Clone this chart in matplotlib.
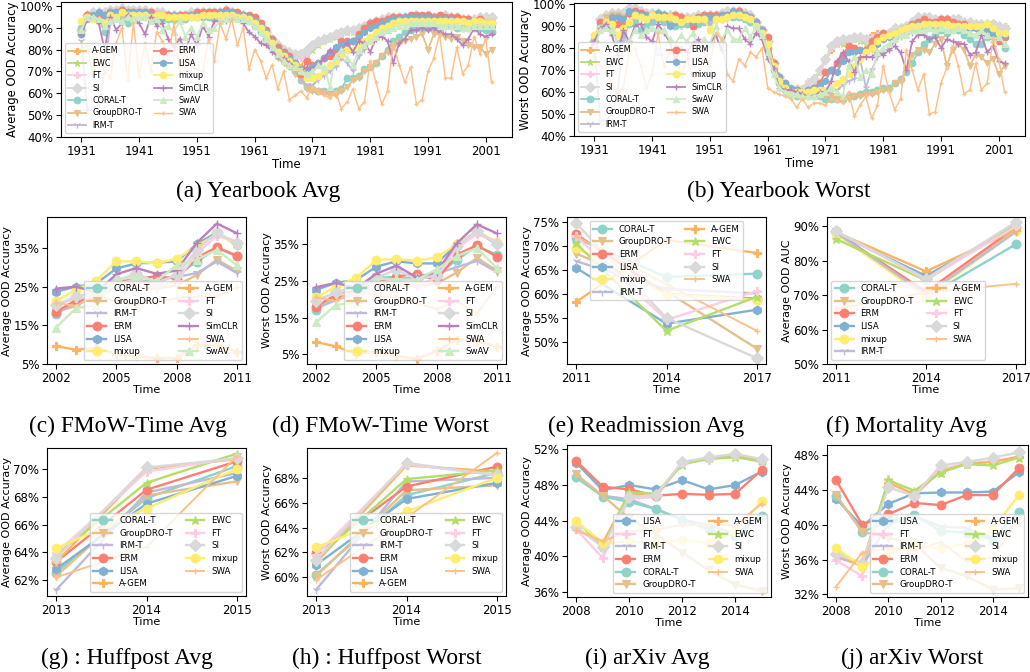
import matplotlib
matplotlib.use("Agg")
import matplotlib.pyplot as plt
from matplotlib.ticker import FuncFormatter

W, H = 1030, 672

# colours and markers per method
colors = {
    'CORAL-T': '#8dd3c7', 'GroupDRO-T': '#e5c08a', 'IRM-T': '#bebada',
    'ERM': '#fb8072', 'LISA': '#80b1d3', 'mixup': '#ffed6f',
    'A-GEM': '#fdb462', 'EWC': '#b3de69', 'FT': '#fccde5', 'SI': '#d9d9d9',
    'SimCLR': '#bc80bd', 'SwAV': '#ccebc5', 'SWA': '#fdc086',
}
markers = {
    'CORAL-T': 'o', 'GroupDRO-T': 'v', 'IRM-T': '1', 'ERM': 'o', 'LISA': 'h',
    'mixup': 'o', 'A-GEM': 'P', 'EWC': '*', 'FT': 'P', 'SI': 'D',
    'SimCLR': '+', 'SwAV': '^', 'SWA': '+',
}

yb_years = list(range(1931, 2003))
fmow_years = list(range(2002, 2012))
mimic_years = [2011, 2014, 2017]
huff_years = [2013, 2014, 2015]
arxiv_years = list(range(2008, 2016))

# ---------------- Yearbook Avg ----------------
yb_avg = {
    'A-GEM': [88, 95, 95, 94, 95, 96, 97, 98, 97, 96,
              97, 96, 97, 96, 96, 96, 96, 96, 95, 96,
              96, 96, 96, 97, 97, 97, 96, 96, 95, 95,
              94, 91, 88, 84, 81, 80, 78, 76, 72, 78,
              82, 83, 85, 86, 87, 88, 89, 89, 90, 91,
              92, 93, 93, 94, 94, 95, 95, 95, 95, 95,
              95, 95, 95, 94, 94, 94, 93, 93, 93, 94,
              93, 92],
    'EWC': [90, 96, 96, 96, 96, 97, 97, 98, 97, 97,
            97, 97, 97, 96, 96, 96, 95, 96, 96, 96,
            96, 96, 97, 97, 97, 97, 97, 96, 95, 95,
            93, 90, 87, 84, 81, 79, 78, 77, 79, 75,
            80, 82, 84, 85, 86, 87, 88, 88, 89, 90,
            91, 92, 93, 94, 94, 94, 94, 95, 95, 95,
            95, 95, 94, 95, 94, 94, 93, 94, 93, 94,
            94, 95],
    'FT': [88, 96, 96, 97, 97, 97, 98, 98, 98, 97,
           97, 97, 97, 96, 96, 96, 96, 95, 96, 96,
           96, 97, 97, 97, 97, 97, 97, 96, 96, 95,
           94, 91, 88, 84, 81, 79, 78, 77, 76, 78,
           81, 83, 84, 86, 87, 88, 89, 89, 90, 91,
           92, 93, 94, 94, 95, 95, 95, 95, 95, 95,
           95, 95, 95, 95, 95, 94, 94, 94, 94, 94,
           94, 94],
    'SI': [89, 96, 97, 97, 97, 98, 98, 99, 98, 98,
           98, 98, 97, 97, 97, 96, 96, 96, 96, 97,
           97, 97, 97, 97, 97, 98, 97, 96, 96, 95,
           94, 91, 88, 85, 82, 80, 79, 78, 78, 80,
           82, 84, 85, 86, 87, 88, 89, 89, 90, 91,
           92, 93, 94, 95, 95, 95, 95, 95, 96, 95,
           96, 95, 95, 96, 95, 95, 94, 94, 94, 95,
           95, 95],
    'CORAL-T': [90, 94, 95, 94, 88, 93, 95, 94, 92, 95,
                96, 95, 95, 95, 94, 94, 94, 94, 94, 95,
                95, 95, 95, 95, 96, 96, 96, 95, 94, 93,
                91, 88, 85, 81, 77, 75, 73, 70, 66, 63,
                62, 61, 61, 61, 61, 62, 67, 67, 68, 71,
                72, 74, 77, 80, 84, 86, 88, 89, 90, 90,
                90, 90, 90, 91, 91, 90, 90, 90, 90, 90,
                89, 88],
    'GroupDRO-T': [88, 94, 96, 96, 95, 96, 96, 96, 96, 96,
                   96, 96, 96, 96, 96, 95, 95, 95, 95, 95,
                   96, 96, 96, 96, 96, 96, 96, 95, 94, 93,
                   91, 88, 84, 80, 76, 74, 72, 69, 66, 62,
                   61, 61, 60, 59, 59, 61, 63, 66, 67, 70,
                   72, 74, 77, 79, 81, 83, 84, 85, 86, 87,
                   80, 87, 87, 86, 85, 86, 84, 82, 81, 81,
                   78, 80],
    'IRM-T': [84, 52, 53, 55, 70, 93, 96, 97, 97, 97,
              96, 96, 96, 95, 95, 95, 95, 95, 95, 95,
              95, 96, 96, 96, 96, 97, 96, 95, 95, 94,
              92, 89, 86, 82, 79, 76, 74, 71, 66, 64,
              64, 66, 68, 70, 72, 76, 74, 70, 77, 80,
              84, 86, 88, 90, 91, 92, 92, 93, 93, 93,
              93, 93, 93, 93, 92, 92, 92, 92, 92, 92,
              91, 91],
    'ERM': [87, 96, 95, 96, 96, 97, 97, 98, 97, 97,
            97, 97, 97, 96, 96, 96, 95, 96, 96, 96,
            97, 97, 97, 97, 97, 98, 97, 97, 96, 96,
            95, 92, 89, 85, 81, 79, 77, 74, 69, 75,
            73, 74, 76, 77, 80, 84, 84, 84, 87, 90,
            92, 93, 93, 94, 95, 95, 95, 96, 96, 96,
            96, 95, 96, 95, 95, 95, 94, 94, 93, 94,
            92, 92],
    'LISA': [87, 95, 96, 97, 96, 97, 97, 97, 97, 97,
             97, 97, 96, 93, 95, 95, 96, 95, 95, 96,
             96, 96, 96, 96, 97, 97, 97, 96, 96, 95,
             93, 91, 88, 84, 80, 78, 76, 74, 71, 70,
             72, 74, 76, 79, 81, 82, 83, 84, 86, 88,
             90, 91, 92, 93, 94, 94, 95, 95, 95, 95,
             95, 94, 94, 94, 94, 93, 93, 93, 93, 92,
             91, 91],
    'mixup': [93, 95, 94, 93, 92, 96, 95, 97, 96, 96,
              96, 96, 95, 96, 96, 95, 95, 95, 95, 95,
              95, 96, 96, 96, 96, 96, 96, 95, 95, 94,
              92, 90, 87, 83, 79, 77, 75, 73, 70, 67,
              67, 68, 70, 73, 75, 78, 80, 80, 82, 84,
              86, 88, 90, 91, 92, 93, 93, 93, 93, 93,
              93, 93, 93, 93, 93, 93, 93, 92, 93, 93,
              92, 92],
    'SimCLR': [87, 94, 95, 92, 80, 95, 89, 92, 96, 94,
               92, 87, 95, 91, 92, 85, 81, 85, 80, 87,
               82, 91, 86, 93, 93, 93, 94, 94, 92, 88,
               86, 83, 82, 79, 77, 76, 74, 72, 70, 72,
               71, 73, 76, 80, 77, 80, 83, 79, 84, 83,
               79, 85, 86, 84, 74, 83, 85, 89, 89, 90,
               89, 90, 88, 87, 87, 85, 82, 85, 90, 87,
               86, 87],
    'SwAV': [89, 95, 95, 94, 91, 93, 94, 93, 95, 94,
             95, 95, 93, 94, 89, 91, 88, 93, 86, 90,
             86, 92, 89, 90, 93, 94, 95, 94, 94, 93,
             91, 88, 85, 81, 78, 75, 73, 72, 70, 69,
             70, 73, 72, 63, 77, 80, 76, 73, 80, 82,
             84, 86, 88, 89, 90, 91, 91, 92, 92, 92,
             92, 92, 91, 91, 91, 91, 90, 90, 91, 91,
             91, 91],
    'SWA': [80, 82, 68, 80, 70, 67, 83, 90, 66, 92,
            68, 83, 70, 88, 84, 76, 92, 70, 80, 72,
            71, 70, 85, 75, 92, 85, 94, 82, 90, 71,
            80, 75, 67, 73, 62, 70, 57, 59, 61, 58,
            63, 60, 59, 58, 61, 53, 56, 62, 53, 56,
            75, 65, 55, 61, 83, 73, 65, 72, 55, 57,
            70, 76, 87, 67, 67, 81, 69, 73, 86, 78,
            85, 65],
}

# ---------------- Yearbook Worst ----------------
yb_worst = {
    'A-GEM': [86, 90, 93, 95, 95, 94, 96, 97, 96, 95,
              95, 95, 94, 94, 95, 92, 93, 92, 94, 94,
              94, 95, 94, 95, 96, 96, 95, 94, 91, 87,
              82, 72, 67, 64, 62, 62, 62, 63, 66, 69,
              74, 79, 82, 83, 84, 85, 84, 84, 86, 87,
              87, 87, 88, 89, 90, 92, 93, 93, 92, 92,
              92, 92, 92, 91, 91, 90, 90, 91, 91, 90,
              90, 90],
    'EWC': [84, 91, 93, 95, 95, 95, 96, 97, 96, 95,
            95, 95, 95, 94, 94, 93, 93, 93, 94, 94,
            94, 94, 95, 96, 96, 96, 95, 94, 91, 87,
            82, 71, 65, 62, 61, 60, 60, 62, 63, 70,
            75, 80, 82, 82, 83, 84, 83, 82, 84, 85,
            86, 86, 87, 88, 89, 90, 91, 92, 92, 91,
            92, 93, 93, 94, 92, 91, 90, 91, 90, 92,
            88, 89],
    'FT': [84, 92, 94, 95, 95, 95, 97, 97, 96, 96,
           95, 95, 94, 94, 94, 90, 91, 89, 93, 94,
           94, 95, 95, 97, 96, 96, 95, 94, 91, 87,
           82, 72, 66, 63, 62, 61, 62, 65, 67, 69,
           74, 80, 82, 83, 84, 84, 84, 84, 85, 86,
           87, 87, 88, 89, 90, 92, 93, 94, 93, 92,
           92, 92, 92, 91, 91, 90, 90, 90, 90, 90,
           88, 88],
    'SI': [83, 93, 95, 96, 96, 96, 98, 98, 97, 96,
           96, 96, 95, 95, 95, 94, 94, 94, 95, 95,
           95, 95, 96, 97, 97, 97, 96, 95, 92, 88,
           83, 73, 67, 63, 61, 61, 61, 63, 66, 70,
           75, 81, 83, 84, 84, 85, 85, 84, 80, 85,
           86, 87, 89, 89, 90, 92, 94, 94, 94, 93,
           93, 93, 93, 93, 92, 92, 91, 91, 91, 91,
           90, 89],
    'CORAL-T': [83, 90, 92, 90, 82, 86, 91, 92, 88, 90,
                92, 93, 92, 92, 90, 91, 91, 91, 91, 92,
                92, 93, 93, 94, 94, 94, 93, 92, 90, 86,
                80, 70, 64, 61, 59, 58, 58, 58, 58, 58,
                57, 57, 57, 57, 58, 58, 59, 60, 60, 61,
                62, 62, 64, 66, 69, 73, 78, 82, 84, 86,
                88, 87, 88, 88, 86, 84, 82, 82, 85, 86,
                85, 80],
    'GroupDRO-T': [84, 90, 94, 95, 95, 94, 95, 95, 95, 94,
                   94, 94, 94, 93, 93, 93, 93, 93, 93, 93,
                   93, 93, 93, 94, 95, 95, 94, 93, 90, 86,
                   80, 70, 63, 60, 59, 58, 58, 58, 58, 58,
                   58, 58, 57, 56, 57, 58, 58, 59, 59, 60,
                   61, 61, 64, 65, 70, 77, 79, 79, 78, 82,
                   84, 72, 79, 82, 79, 72, 77, 76, 73, 75,
                   68, 72],
    'IRM-T': [80, 47, 47, 50, 60, 83, 92, 94, 94, 93,
              93, 93, 92, 92, 92, 92, 92, 92, 92, 92,
              92, 92, 93, 93, 94, 94, 94, 93, 92, 89,
              82, 70, 64, 61, 59, 59, 59, 59, 59, 59,
              59, 60, 61, 63, 65, 66, 75, 62, 70, 76,
              78, 80, 83, 85, 86, 87, 88, 89, 89, 90,
              90, 90, 89, 89, 88, 88, 88, 88, 88, 88,
              87, 86],
    'ERM': [82, 92, 90, 92, 91, 92, 96, 97, 96, 95,
            95, 95, 95, 94, 95, 94, 93, 90, 94, 95,
            95, 95, 95, 95, 96, 97, 95, 94, 92, 88,
            85, 73, 67, 64, 61, 61, 60, 61, 62, 64,
            69, 70, 73, 77, 81, 80, 79, 79, 83, 85,
            87, 86, 87, 88, 89, 91, 92, 93, 92, 92,
            93, 93, 92, 91, 91, 90, 90, 90, 90, 85,
            83, 85],
    'LISA': [80, 90, 91, 94, 94, 93, 97, 96, 95, 95,
             95, 96, 95, 90, 92, 92, 93, 92, 93, 94,
             94, 94, 95, 95, 97, 96, 95, 94, 92, 88,
             82, 72, 67, 64, 62, 61, 60, 61, 62, 63,
             65, 70, 69, 74, 78, 78, 79, 78, 80, 82,
             84, 85, 86, 88, 89, 90, 91, 91, 91, 90,
             91, 91, 90, 90, 89, 89, 89, 89, 88, 87,
             86, 86],
    'mixup': [86, 89, 92, 91, 86, 89, 92, 95, 94, 93,
              95, 94, 94, 94, 93, 92, 93, 93, 93, 93,
              88, 93, 93, 94, 95, 95, 94, 93, 90, 87,
              82, 72, 65, 62, 60, 60, 60, 60, 61, 61,
              61, 62, 64, 66, 68, 72, 75, 78, 80, 83,
              85, 86, 87, 88, 89, 90, 90, 91, 91, 91,
              91, 91, 90, 90, 90, 90, 90, 90, 91, 89,
              87, 87],
    'SimCLR': [83, 89, 91, 86, 77, 88, 83, 90, 91, 85,
               83, 91, 87, 83, 75, 80, 78, 82, 84, 79,
               82, 86, 79, 90, 89, 89, 84, 82, 87, 84,
               75, 71, 62, 61, 61, 60, 59, 58, 58, 60,
               60, 65, 74, 78, 74, 69, 76, 76, 76, 78,
               77, 79, 81, 78, 70, 83, 86, 86, 84, 85,
               80, 84, 83, 82, 82, 77, 78, 86, 78, 81,
               74, 73],
    'SwAV': [80, 88, 89, 88, 82, 80, 83, 88, 86, 88,
             89, 88, 88, 84, 82, 86, 83, 87, 80, 84,
             82, 90, 84, 88, 84, 84, 89, 85, 90, 86,
             78, 68, 62, 60, 59, 59, 58, 58, 58, 59,
             60, 62, 60, 58, 72, 76, 67, 70, 68, 78,
             80, 82, 84, 86, 86, 88, 88, 88, 89, 88,
             89, 88, 88, 89, 88, 87, 86, 88, 86, 84,
             85, 82],
    'SWA': [75, 72, 70, 64, 60, 62, 78, 80, 72, 62,
            68, 87, 72, 78, 80, 67, 75, 67, 70, 76,
            72, 87, 84, 68, 65, 75, 72, 78, 76, 80,
            62, 60, 59, 58, 57, 53, 57, 53, 55, 55,
            54, 57, 56, 55, 60, 49, 54, 58, 48, 54,
            72, 60, 52, 57, 79, 70, 61, 68, 50, 51,
            64, 71, 81, 72, 59, 61, 73, 61, 64, 84,
            75, 60],
}

# ---------------- FMoW-Time ----------------
fmow_avg = {
    'CORAL-T': [17.9, 21.0, 23.0, 26.6, 26.5, 26.0, 28.0, 31.4, 35.0, 32.8],
    'GroupDRO-T': [18.5, 20.0, 23.0, 26.0, 24.8, 24.5, 25.3, 28.0, 32.0, 29.0],
    'IRM-T': [18.0, 21.0, 22.0, 25.0, 26.0, 27.0, 27.5, 28.5, 31.5, 28.5],
    'ERM': [18.5, 21.5, 22.0, 26.0, 27.0, 27.7, 27.0, 32.5, 35.2, 33.0],
    'LISA': [23.7, 25.0, 25.8, 29.7, 31.0, 31.2, 31.5, 36.0, 39.0, 35.7],
    'mixup': [21.3, 24.2, 26.5, 31.6, 31.5, 31.0, 32.2, 35.5, 38.5, 36.0],
    'A-GEM': [9.6, 8.7, 9.2, 7.5, 7.0, 6.5, 6.6, 9.8, 9.8, 8.2],
    'FT': [20.3, 22.0, 22.2, 25.5, 27.0, 24.8, 26.5, 33.5, 38.2, 36.8],
    'SI': [20.2, 22.5, 23.5, 26.5, 28.5, 26.0, 28.0, 34.5, 39.0, 36.2],
    'SimCLR': [24.5, 25.0, 23.5, 28.2, 29.8, 28.3, 29.2, 36.3, 41.3, 38.8],
    'SWA': [20.8, 20.0, 23.0, 21.0, 20.5, 21.0, 22.0, 22.5, 22.5, 24.8],
    'SwAV': [14.4, 19.5, 20.2, 27.0, 27.5, 26.5, 30.5, 32.0, 34.5, 30.5],
}
fmow_worst = {
    'CORAL-T': [17.0, 21.0, 22.5, 26.0, 26.0, 25.5, 26.5, 30.8, 34.5, 32.2],
    'GroupDRO-T': [17.8, 20.0, 22.5, 24.6, 23.6, 23.6, 24.3, 27.3, 31.3, 27.8],
    'IRM-T': [17.5, 19.8, 21.5, 24.5, 25.5, 26.0, 27.0, 28.8, 30.5, 27.5],
    'ERM': [18.0, 21.3, 22.3, 24.5, 26.2, 27.0, 25.2, 32.2, 34.8, 31.6],
    'LISA': [22.6, 24.5, 25.3, 28.9, 30.4, 29.8, 29.8, 35.0, 38.5, 35.0],
    'mixup': [20.5, 23.5, 25.9, 30.7, 31.0, 30.5, 31.5, 35.0, 38.5, 35.8],
    'A-GEM': [8.3, 7.1, 5.0, 5.7, 4.5, 3.7, 5.8, 9.0, 8.6, 7.0],
    'FT': [20.0, 21.5, 21.3, 24.2, 25.5, 23.7, 26.0, 34.0, 37.8, 35.8],
    'SI': [19.5, 22.0, 23.4, 26.0, 28.0, 25.5, 26.5, 34.5, 38.8, 35.0],
    'SimCLR': [23.3, 24.5, 23.0, 27.0, 29.2, 26.0, 27.5, 35.3, 40.5, 38.0],
    'SWA': [20.5, 19.5, 22.5, 21.0, 20.5, 19.0, 17.3, 19.5, 16.0, 23.6],
    'SwAV': [13.7, 18.5, 19.0, 25.6, 25.5, 25.3, 28.2, 31.8, 34.0, 28.5],
}

# ---------------- MIMIC ----------------
readmission_avg = {
    'CORAL-T': [71.6, 63.5, 64.2],
    'GroupDRO-T': [68.4, 60.5, 48.6],
    'ERM': [72.4, 60.0, 59.0],
    'LISA': [65.4, 53.8, 56.7],
    'mixup': [69.6, 59.9, 58.8],
    'IRM-T': [66.8, 61.0, 60.1],
    'A-GEM': [58.3, 71.2, 68.5],
    'EWC': [70.5, 52.3, 59.4],
    'FT': [72.0, 54.6, 60.6],
    'SI': [74.7, 55.0, 46.6],
    'SWA': [72.0, 62.0, 52.3],
}
mortality_avg = {
    'CORAL-T': [88.7, 69.5, 84.8],
    'GroupDRO-T': [88.3, 70.0, 89.0],
    'ERM': [88.2, 71.0, 89.7],
    'LISA': [88.0, 75.6, 90.0],
    'mixup': [87.7, 69.5, 88.5],
    'IRM-T': [88.2, 70.2, 88.4],
    'A-GEM': [88.3, 76.9, 89.0],
    'EWC': [86.3, 74.3, 91.0],
    'FT': [88.5, 74.5, 90.0],
    'SI': [88.6, 74.8, 91.2],
    'SWA': [66.0, 70.8, 73.3],
}

# ---------------- Huffpost ----------------
huff_avg = {
    'CORAL-T': [62.55, 67.9, 70.2],
    'GroupDRO-T': [62.3, 68.1, 69.1],
    'IRM-T': [61.3, 68.3, 69.7],
    'ERM': [63.3, 68.5, 70.55],
    'LISA': [62.8, 67.5, 69.5],
    'A-GEM': [63.3, 70.0, 70.7],
    'EWC': [63.8, 69.0, 71.1],
    'FT': [63.95, 69.8, 70.8],
    'SI': [63.6, 70.1, 70.75],
    'mixup': [64.3, 67.15, 70.0],
    'SWA': [62.2, 64.4, 70.9],
}
huff_worst = {
    'CORAL-T': [60.2, 66.6, 68.4],
    'GroupDRO-T': [60.1, 67.0, 67.4],
    'IRM-T': [59.0, 67.7, 68.0],
    'ERM': [61.97, 67.3, 68.9],
    'LISA': [61.0, 66.3, 67.6],
    'A-GEM': [61.2, 69.0, 68.5],
    'EWC': [61.5, 67.9, 68.6],
    'FT': [61.8, 69.1, 68.2],
    'SI': [61.4, 69.2, 68.2],
    'mixup': [62.4, 65.3, 68.0],
    'SWA': [59.8, 64.8, 70.0],
}

# ---------------- arXiv ----------------
arxiv_avg = {
    'LISA': [50.5, 47.4, 48.0, 47.5, 48.55, 47.5, 48.0, 49.5],
    'FT': [43.0, 39.8, 46.5, 46.6, 50.5, 50.8, 51.3, 50.5],
    'IRM-T': [48.8, 46.8, 46.4, 45.3, 44.1, 43.5, 42.5, 44.5],
    'ERM': [50.7, 47.8, 47.5, 46.8, 47.0, 46.9, 47.0, 49.7],
    'CORAL-T': [48.9, 46.7, 46.1, 45.3, 44.1, 43.0, 42.3, 44.5],
    'GroupDRO-T': [49.2, 46.8, 44.25, 42.5, 40.4, 38.4, 36.8, 36.1],
    'A-GEM': [43.0, 41.5, 47.0, 46.8, 50.5, 51.0, 51.3, 50.8],
    'EWC': [44.0, 41.0, 47.2, 47.0, 50.3, 51.0, 51.1, 50.7],
    'SI': [43.3, 41.0, 46.6, 46.9, 50.6, 51.1, 51.5, 50.9],
    'mixup': [43.9, 41.5, 41.6, 41.5, 41.8, 41.5, 42.8, 46.2],
    'SWA': [42.9, 41.7, 42.8, 43.0, 43.5, 43.5, 43.5, 45.9],
}
arxiv_worst = {
    'LISA': [43.0, 39.8, 42.4, 43.6, 43.7, 43.7, 43.8, 46.0],
    'FT': [35.9, 34.1, 45.3, 43.2, 46.4, 47.0, 47.3, 47.8],
    'IRM-T': [36.3, 35.3, 40.0, 41.0, 39.8, 39.6, 38.5, 40.2],
    'ERM': [45.1, 40.0, 41.2, 42.5, 42.25, 43.4, 43.4, 46.5],
    'CORAL-T': [43.3, 39.2, 40.3, 41.1, 39.3, 39.1, 38.3, 41.5],
    'GroupDRO-T': [43.4, 39.2, 38.5, 37.8, 35.05, 34.1, 32.55, 32.7],
    'A-GEM': [36.6, 35.2, 44.8, 43.5, 46.1, 47.0, 47.2, 47.8],
    'EWC': [36.7, 35.5, 45.1, 43.9, 45.97, 46.97, 46.8, 47.7],
    'SI': [36.6, 35.6, 44.3, 43.3, 46.8, 47.2, 47.7, 48.3],
    'mixup': [37.3, 35.2, 36.8, 37.5, 37.3, 37.8, 39.5, 43.4],
    'SWA': [32.9, 36.8, 37.3, 37.0, 38.0, 35.8, 36.2, 40.8],
}

yb_order = ['A-GEM', 'EWC', 'FT', 'SI', 'CORAL-T', 'GroupDRO-T', 'IRM-T',
            'ERM', 'LISA', 'mixup', 'SimCLR', 'SwAV', 'SWA']
fmow_order = ['CORAL-T', 'GroupDRO-T', 'IRM-T', 'ERM', 'LISA', 'mixup',
              'A-GEM', 'FT', 'SI', 'SimCLR', 'SWA', 'SwAV']
mimic_order = ['CORAL-T', 'GroupDRO-T', 'ERM', 'LISA', 'mixup', 'IRM-T',
               'A-GEM', 'EWC', 'FT', 'SI', 'SWA']
huff_order = ['CORAL-T', 'GroupDRO-T', 'IRM-T', 'ERM', 'LISA', 'A-GEM',
              'EWC', 'FT', 'SI', 'mixup', 'SWA']
arxiv_order = ['LISA', 'FT', 'IRM-T', 'ERM', 'CORAL-T', 'GroupDRO-T',
               'A-GEM', 'EWC', 'SI', 'mixup', 'SWA']

fig = plt.figure(figsize=(W / 100, H / 100), dpi=100)
pct = FuncFormatter(lambda v, p: f'{v:.0f}%')


def panel(box, years, data, order, ylim, yticks, xticks, ylabel, caption,
          cap_x, cap_y, ms=6.3, lw=1.7, lfs=6.2, loc='lower right',
          ylfs=8.0, tfs=8.5):
    l, t, r, b = box
    ax = fig.add_axes([l / W, 1 - b / H, (r - l) / W, (b - t) / H])
    for name in order:
        m = markers[name]
        size = ms * 0.75 if name == 'SWA' else ms
        width = lw * 0.8 if name == 'SWA' else lw
        ax.plot(years, data[name], color=colors[name], marker=m,
                markersize=size, lw=width, label=name,
                markeredgewidth=1.0 if m in '+1' else 0.8)
    ax.set_ylim(*ylim)
    ax.set_yticks(yticks)
    ax.set_xticks(xticks)
    ax.yaxis.set_major_formatter(pct)
    ax.tick_params(labelsize=tfs, pad=2)
    ax.set_ylabel(ylabel, fontsize=ylfs, labelpad=1)
    ax.set_xlabel('Time', fontsize=ylfs, labelpad=0)
    ax.legend(ncol=2, fontsize=lfs, loc=loc, handlelength=2.2,
              columnspacing=1.5, labelspacing=0.42, borderpad=0.4,
              handletextpad=0.8)
    fig.text(cap_x / W, 1 - cap_y / H, caption, ha='center', va='center',
             fontsize=16.8, family='Liberation Serif')
    return ax


yb_ticks = list(range(1931, 2002, 10))
panel((61, 2, 512, 137), yb_years, yb_avg, yb_order, (40, 101.8),
      range(40, 101, 10), yb_ticks, 'Average OOD Accuracy', '(a) Yearbook Avg',
      258, 191, ms=4.8, lw=1.3, lfs=5.8, loc='lower left', ylfs=8.4)
panel((574, 3, 1025, 136), yb_years, yb_worst, yb_order, (40, 100.5),
      range(40, 101, 10), yb_ticks, 'Worst OOD Accuracy', '(b) Yearbook Worst',
      779, 191, ms=4.8, lw=1.3, lfs=5.8, loc='lower left', ylfs=8.4)

panel((47, 217, 246, 364), fmow_years, fmow_avg, fmow_order, (5, 43),
      [5, 15, 25, 35], [2002, 2005, 2008, 2011], 'Average OOD Accuracy',
      '(c) FMoW-Time Avg', 128, 426)
panel((307, 217, 506, 364), fmow_years, fmow_worst, fmow_order, (2.3, 42.5),
      [5, 15, 25, 35], [2002, 2005, 2008, 2011], 'Worst OOD Accuracy',
      '(d) FMoW-Time Worst', 381, 426)
panel((567, 217, 766, 364), mimic_years, readmission_avg, mimic_order,
      (45.4, 76), [50, 55, 60, 65, 70, 75], mimic_years,
      'Average OOD Accuracy', '(e) Readmission Avg', 646, 426,
      loc='upper center')
panel((827, 217, 1025, 364), mimic_years, mortality_avg, mimic_order,
      (50, 92.7), [50, 60, 70, 80, 90], mimic_years, 'Average OOD AUC',
      '(f) Mortality Avg', 907, 426, loc='lower left')

panel((47, 448, 246, 596), huff_years, huff_avg, huff_order, (60.87, 71.5),
      [62, 64, 66, 68, 70], huff_years, 'Average OOD Accuracy',
      '(g) : Huffpost Avg', 127, 658)
panel((307, 448, 506, 596), huff_years, huff_worst, huff_order, (58.5, 70.4),
      [60, 62, 64, 66, 68], huff_years, 'Worst OOD Accuracy',
      '(h) : Huffpost Worst', 387, 658)
panel((567, 445, 771, 597), arxiv_years, arxiv_avg, arxiv_order, (35.4, 52.5),
      [36, 40, 44, 48, 52], [2008, 2010, 2012, 2014], 'Average OOD Accuracy',
      '(i) arXiv Avg', 647, 658)
panel((827, 445, 1028, 597), arxiv_years, arxiv_worst, arxiv_order,
      (31.7, 49.15), [32, 36, 40, 44, 48], [2008, 2010, 2012, 2014],
      'Worst OOD Accuracy', '(j) arXiv Worst', 912, 658)

fig.savefig('out.png', dpi=100)
